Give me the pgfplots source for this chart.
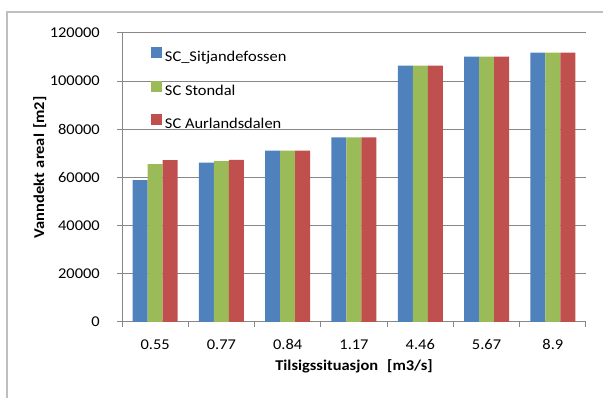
\documentclass[border=0pt]{standalone}
\usepackage{fontspec}
\setmainfont{Carlito}[FakeStretch=1.1]
\usepackage{pgfplots}
\pgfplotsset{compat=1.18}

\definecolor{scblue}{HTML}{4F81BD}
\definecolor{scgreen}{HTML}{9BBB59}
\definecolor{scred}{HTML}{C0504D}
\definecolor{gridc}{HTML}{878787}
\definecolor{framec}{HTML}{BFBFBF}

\pgfplotsset{
  sqlegend/.style={legend image code/.code={\fill[##1] (0bp,-0.5bp) rectangle (11bp,10.5bp);}},
}

\begin{document}
\begin{tikzpicture}
\useasboundingbox (0,0) rectangle (603bp,398bp);
% chart frame
\draw[framec, line width=1.3bp] (7bp,0) -- (7bp,386bp) -- (603bp,386bp);
\begin{axis}[
  at={(122bp,76bp)}, anchor=south west,
  scale only axis, width=464bp, height=289bp,
  ybar=0pt, bar width=15bp,
  xmin=-0.5, xmax=6.5, ymin=0, ymax=120000,
  scaled y ticks=false,
  xtick={0,...,6},
  xticklabels={0.55,0.77,0.84,1.17,4.46,5.67,8.9},
  minor xtick={-0.5,0.5,...,6.5},
  ytick={0,20000,40000,60000,80000,100000,120000},
  yticklabels={0,20000,40000,60000,80000,100000,120000},
  axis x line*=bottom, axis y line*=left,
  axis line style={draw=gridc, line width=1bp, -},
  ymajorgrids, major grid style={draw=gridc, line width=1bp},
  tick align=outside, major tick length=5bp, minor tick length=5bp,
  major x tick style={draw=none},
  minor x tick style={draw=gridc, line width=1bp},
  ytick style={draw=gridc, line width=1bp},
  every tick label/.append style={font=\fontsize{15}{17}\selectfont, inner sep=0pt},
  xticklabel style={anchor=center, yshift=-17.5bp},
  yticklabel style={anchor=east, xshift=-17bp},
  xlabel={\textbf{Tilsigssituasjon\hspace{9bp}[m3/s]}},
  ylabel={\textbf{Vanndekt\hspace{5bp}areal\hspace{5bp}[m2]}},
  label style={font=\fontsize{15}{17}\selectfont},
  xlabel style={at={(axis description cs:0.5,-0.152)}, anchor=center},
  ylabel style={at={(axis description cs:-0.177,0.535)}, anchor=center},
  legend style={at={(axis description cs:0.0625,0.9505)}, anchor=north west,
    draw=none, fill=none, inner sep=0pt, outer sep=0pt,
    font=\fontsize{15}{17}\selectfont,
    nodes={inner sep=0pt, text height=11bp, text depth=3bp},
    row sep=16bp, column sep=3bp},
  legend cell align=left,
]
\addplot[fill=scblue, draw=none, sqlegend] coordinates {
  (0,58960) (1,66150) (2,71200) (3,76700) (4,106500) (5,110200) (6,111800)};
\addplot[fill=scgreen, draw=none, sqlegend] coordinates {
  (0,65600) (1,66850) (2,71200) (3,76700) (4,106500) (5,110200) (6,111800)};
\addplot[fill=scred, draw=none, sqlegend] coordinates {
  (0,67260) (1,67300) (2,71200) (3,76700) (4,106500) (5,110200) (6,111800)};
\legend{SC\_Sitjandefossen, SC Stondal, SC Aurlandsdalen}
\end{axis}
\end{tikzpicture}
\end{document}
